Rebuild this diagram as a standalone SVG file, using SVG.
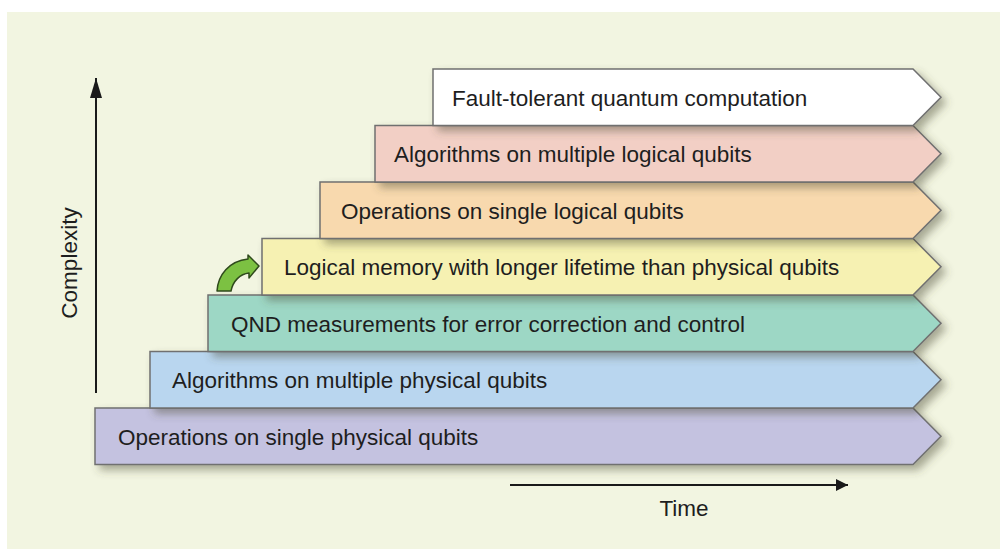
<svg xmlns="http://www.w3.org/2000/svg" width="1003" height="549" viewBox="0 0 1003 549">
  <defs>
    <filter id="shadow" x="-10%" y="-30%" width="125%" height="180%">
      <feDropShadow dx="5" dy="5" stdDeviation="4" flood-color="#4a4a30" flood-opacity="0.45"/>
    </filter>
    <marker id="arrow" viewBox="0 0 12 12" refX="12" refY="6" markerWidth="12" markerHeight="12" markerUnits="userSpaceOnUse" orient="auto">
      <path d="M0,0 L12,6 L0,12 Z" fill="#1a1a1a"/>
    </marker>
    <marker id="arrowv" viewBox="0 0 20 12" refX="20" refY="6" markerWidth="20" markerHeight="12" markerUnits="userSpaceOnUse" orient="auto">
      <path d="M0,0 L20,6 L0,12 Z" fill="#1a1a1a"/>
    </marker>
  </defs>
  <style>
    .band { stroke: #707070; stroke-width: 1.5; filter: url(#shadow); }
    .lbl { font-family: "Liberation Sans", Arial, sans-serif; font-size: 22.5px; fill: #1e1e1e; }
    .axis { stroke: #1a1a1a; stroke-width: 2; fill: none; }
  </style>
  <rect x="7" y="12" width="993" height="537" fill="#f2f5e1"/>

  <g id="node-ops-physical">
    <polygon class="band" fill="#c4c2e0" points="95,408 913,408 941,436.25 913,464.5 95,464.5"/>
    <text class="lbl" x="118" y="444.5">Operations on single physical qubits</text>
  </g>
  <g id="node-alg-physical">
    <polygon class="band" fill="#b9d6ef" points="150,351.5 913,351.5 941,379.75 913,408 150,408"/>
    <text class="lbl" x="172" y="388">Algorithms on multiple physical qubits</text>
  </g>
  <g id="node-qnd">
    <polygon class="band" fill="#9dd7c5" points="208,295 913,295 941,323.25 913,351.5 208,351.5"/>
    <text class="lbl" x="231" y="331.5">QND measurements for error correction and control</text>
  </g>
  <g id="node-logical-memory">
    <polygon class="band" fill="#f6f1b2" points="262,238.5 913,238.5 941,266.75 913,295 262,295"/>
    <text class="lbl" x="284" y="275">Logical memory with longer lifetime than physical qubits</text>
  </g>
  <g id="node-ops-logical">
    <polygon class="band" fill="#f8d9ae" points="320,182 913,182 941,210.25 913,238.5 320,238.5"/>
    <text class="lbl" x="341" y="218.5">Operations on single logical qubits</text>
  </g>
  <g id="node-alg-logical">
    <polygon class="band" fill="#f2cfc5" points="375,125.5 913,125.5 941,153.75 913,182 375,182"/>
    <text class="lbl" x="394" y="162">Algorithms on multiple logical qubits</text>
  </g>
  <g id="node-fault-tolerant">
    <polygon class="band" fill="#ffffff" points="433,69 913,69 941,97.25 913,125.5 433,125.5"/>
    <text class="lbl" x="452" y="105.5">Fault-tolerant quantum computation</text>
  </g>

  <g id="green-arrow">
    <path d="M217,291 C218,275 229,261 248,259 L248,255 L259,266 L249,278 L249,273 C240,274 233,281 231,291 Z" fill="#7cc142" stroke="#2f4a1c" stroke-width="1.5" stroke-linejoin="round"/>
  </g>

  <g id="connectors">
    <line class="axis" x1="96" y1="393" x2="96" y2="78" marker-end="url(#arrowv)"/>
    <line class="axis" x1="510" y1="485" x2="848" y2="485" marker-end="url(#arrow)"/>
  </g>

  <g id="axis-labels">
    <text class="lbl" transform="translate(77,263) rotate(-90)" text-anchor="middle">Complexity</text>
    <text class="lbl" x="684" y="516" text-anchor="middle">Time</text>
  </g>
</svg>
